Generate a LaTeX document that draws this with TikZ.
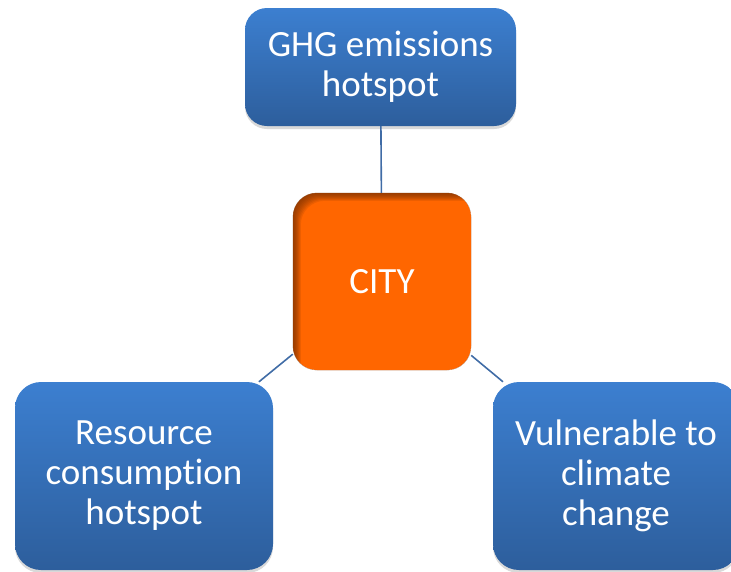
\documentclass[tikz,border=0pt]{standalone}
\usepackage{fontspec}
\setmainfont{Carlito}[Ligatures=NoCommon]
\usetikzlibrary{shadows}

\definecolor{boxtop}{RGB}{60,127,208}
\definecolor{boxbottom}{RGB}{45,94,156}
\definecolor{cityorange}{RGB}{255,102,0}
\definecolor{cityshade}{RGB}{110,45,0}
\definecolor{linkblue}{RGB}{64,108,166}

\begin{document}
\begin{tikzpicture}[x=1pt, y=-1pt, font=\fontsize{37}{40}\selectfont]
\tikzstyle{topic}=[rounded corners=22pt, top color=boxtop, bottom color=boxbottom, text=white, align=center, inner sep=0pt, drop shadow={shadow xshift=0pt, shadow yshift=-3pt, opacity=0.3}]
\tikzstyle{hub}=[rounded corners=24pt, fill=cityorange, text=white, inner sep=0pt, minimum width=178pt, minimum height=177pt]
\tikzstyle{link}=[linkblue, line width=1.6pt]
\useasboundingbox (0,0) rectangle (731,571);
\clip (0,0) rectangle (731,571);
\node[topic, minimum width=271pt, minimum height=118pt] (ghg) at (380.5,67) {GHG emissions\\hotspot};
\node[hub] (city) at (382,281.5) {};
\node[topic, rounded corners=26pt, minimum width=258pt, minimum height=188pt] (resource) at (144,476) {Resource\\consumption\\hotspot};
\node[topic, rounded corners=26pt, minimum width=246pt, minimum height=188pt] (vulnerable) at (616,476) {Vulnerable to\\climate\\change};
% inner shadow along the top and left edge of the city box
\begin{scope}
\clip[rounded corners=24pt] (city.north west) rectangle (city.south east);
\foreach \d in {1,...,8}
  \fill[cityshade, opacity=0.13, even odd rule, rounded corners=24pt] (city.north west) rectangle (city.south east) ([shift={(\d,\d)}]city.north west) rectangle ([shift={(\d+30,\d+30)}]city.south east);
\end{scope}
\node[text=white] at (city) {CITY};
\draw[link] (ghg) -- (city);
\draw[link] (city) -- (resource);
\draw[link] (city) -- (vulnerable);
\end{tikzpicture}
\end{document}
